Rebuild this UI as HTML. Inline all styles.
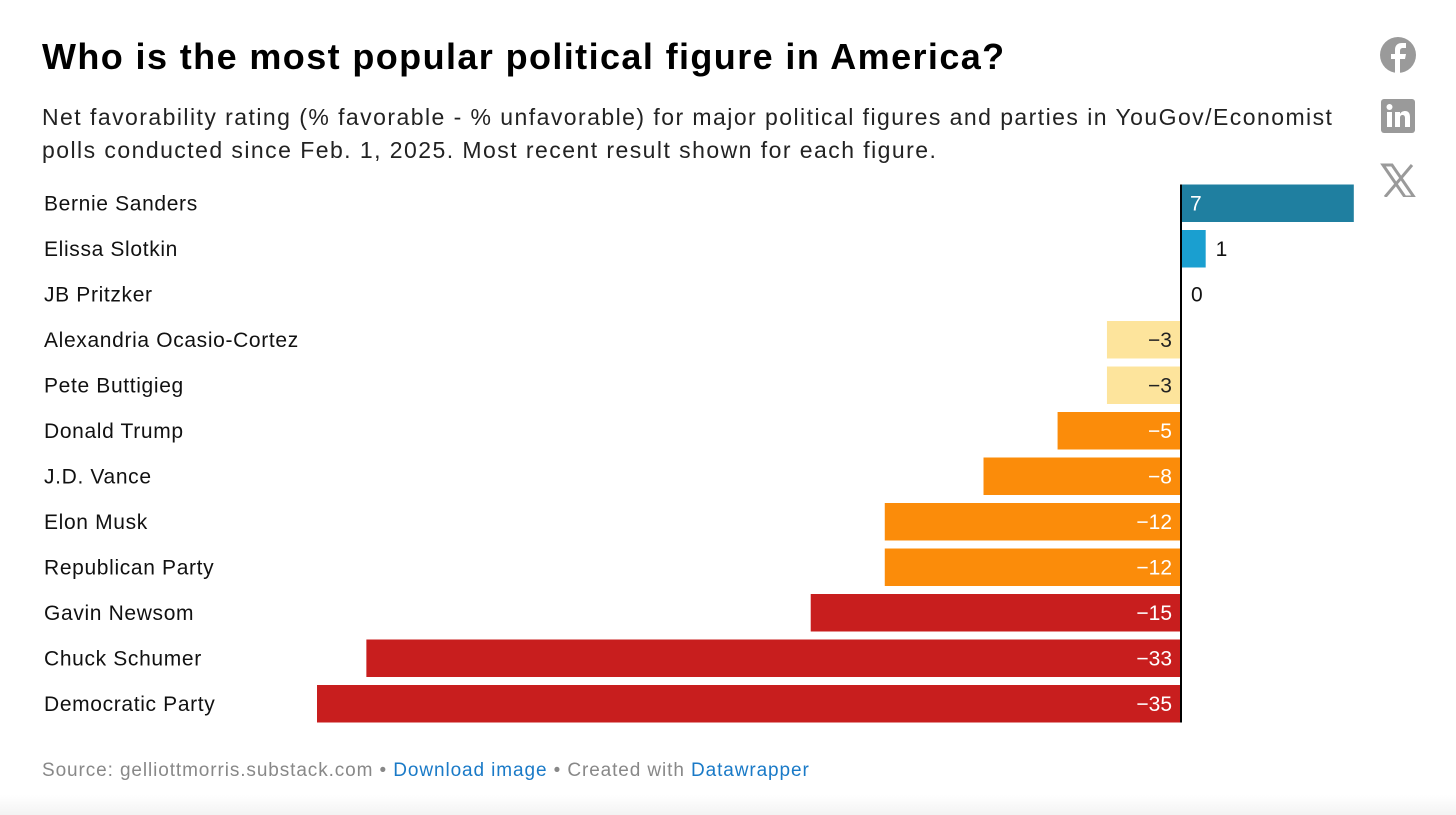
<!DOCTYPE html>
<html><head><meta charset="utf-8">
<style>
body{margin:0;width:1456px;height:815px;background:#fff;font-family:"Liberation Sans",sans-serif;overflow:hidden;position:relative}
#bg{position:absolute;left:0;top:795px;width:1456px;height:20px;background:linear-gradient(#fff,#f3f3f3)}
h1{position:absolute;left:42px;top:36px;margin:0;font-size:36px;font-weight:bold;color:#000;letter-spacing:1.4px;white-space:nowrap}
#sub{position:absolute;left:42px;top:101px;width:1360px;font-size:23px;line-height:33px;color:#222;margin:0;letter-spacing:1.45px;white-space:nowrap}
#foot{position:absolute;left:42px;top:760px;font-size:19px;color:#888;letter-spacing:0.9px;white-space:nowrap}
#foot a{color:#1a7ac7;text-decoration:none}
svg text{font-family:"Liberation Sans",sans-serif}
</style></head><body>
<div id="bg"></div>
<h1>Who is the most popular political figure in America?</h1>
<p id="sub">Net favorability rating (% favorable - % unfavorable) for major political figures and parties in YouGov/Economist<br>polls conducted since Feb. 1, 2025. Most recent result shown for each figure.</p>
<svg id="chart" width="1456" height="815" style="position:absolute;left:0;top:0"></svg>
<div id="foot">Source: gelliottmorris.substack.com • <a>Download image</a> • Created with <a>Datawrapper</a></div>
<svg style="position:absolute;left:1380px;top:37px" width="36" height="160">
<g><circle cx="18" cy="18" r="18" fill="#9a9a9a"/><path d="M20 36V22h5l1-5h-6v-3c0-2 1-3 3-3h3V6h-4c-5 0-7 3-7 7v4h-4v5h4v14z" fill="#fff"/></g>
<g transform="translate(1,62)"><rect width="34" height="34" rx="3" fill="#9a9a9a"/><rect x="6" y="13" width="5" height="15" fill="#fff"/><circle cx="8.5" cy="8" r="3" fill="#fff"/><path d="M14 13h5v2c1-2 3-3 5-3 4 0 5 3 5 6v10h-5v-9c0-2-1-3-2.5-3s-2.5 1-2.5 3v9h-5z" fill="#fff"/></g>
<g transform="translate(2,128)" stroke="#9a9a9a" fill="none"><path d="M1 0h9l22 32h-9z" stroke-width="3"/><path d="M30 0L3 32" stroke-width="3"/></g>
</svg>
<script>
const names=["Bernie Sanders","Elissa Slotkin","JB Pritzker","Alexandria Ocasio-Cortez","Pete Buttigieg","Donald Trump","J.D. Vance","Elon Musk","Republican Party","Gavin Newsom","Chuck Schumer","Democratic Party"];
const values=[7,1,0,-3,-3,-5,-8,-12,-12,-15,-33,-35];
const colors=["#1f7fa0","#1a9fd0","#1a9fd0","#fde49c","#fde49c","#fb8c0a","#fb8c0a","#fb8c0a","#fb8c0a","#c81e1e","#c81e1e","#c81e1e"];
const svg=document.getElementById('chart');const NS="http://www.w3.org/2000/svg";
const x0=1181,unit=864/35,top0=184.5,pitch=45.5,bh=37.5;
const x=v=>x0+v*unit;const y=i=>top0+i*pitch;
function mk(t,a){const e=document.createElementNS(NS,t);for(const k in a)e.setAttribute(k,a[k]);svg.appendChild(e);return e;}
names.forEach((n,i)=>{
 const lab=mk('text',{x:44,y:y(i)+bh/2+7,'font-size':21,fill:'#111','letter-spacing':0.65});lab.textContent=n;
 
 
 const v=values[i];const xa=Math.min(x(v),x0),w=Math.abs(x(v)-x0);
 if(w>0){const r=mk('rect',{x:xa,y:y(i),width:w,height:bh,fill:colors[i]});
 
 }
 const txt=v<0?'\u2212'+Math.abs(v):String(v);
 let tx,anchor,fill;
 if(v<0){tx=x0-9;anchor='end';fill=colors[i]=="#fde49c"?'#222':'#fff';}
 else if(w>40){tx=x0+9;anchor='start';fill='#fff';}
 else{tx=x(v)+10;anchor='start';fill='#111';}
 const t=mk('text',{x:tx,y:y(i)+bh/2+7,'font-size':21,fill:fill,'text-anchor':anchor});t.textContent=txt;
 
 
});
const ax=mk('line',{x1:x0,x2:x0,y1:y(0),y2:y(names.length-1)+bh,stroke:'#000','stroke-width':2});


</script>
</body></html>
